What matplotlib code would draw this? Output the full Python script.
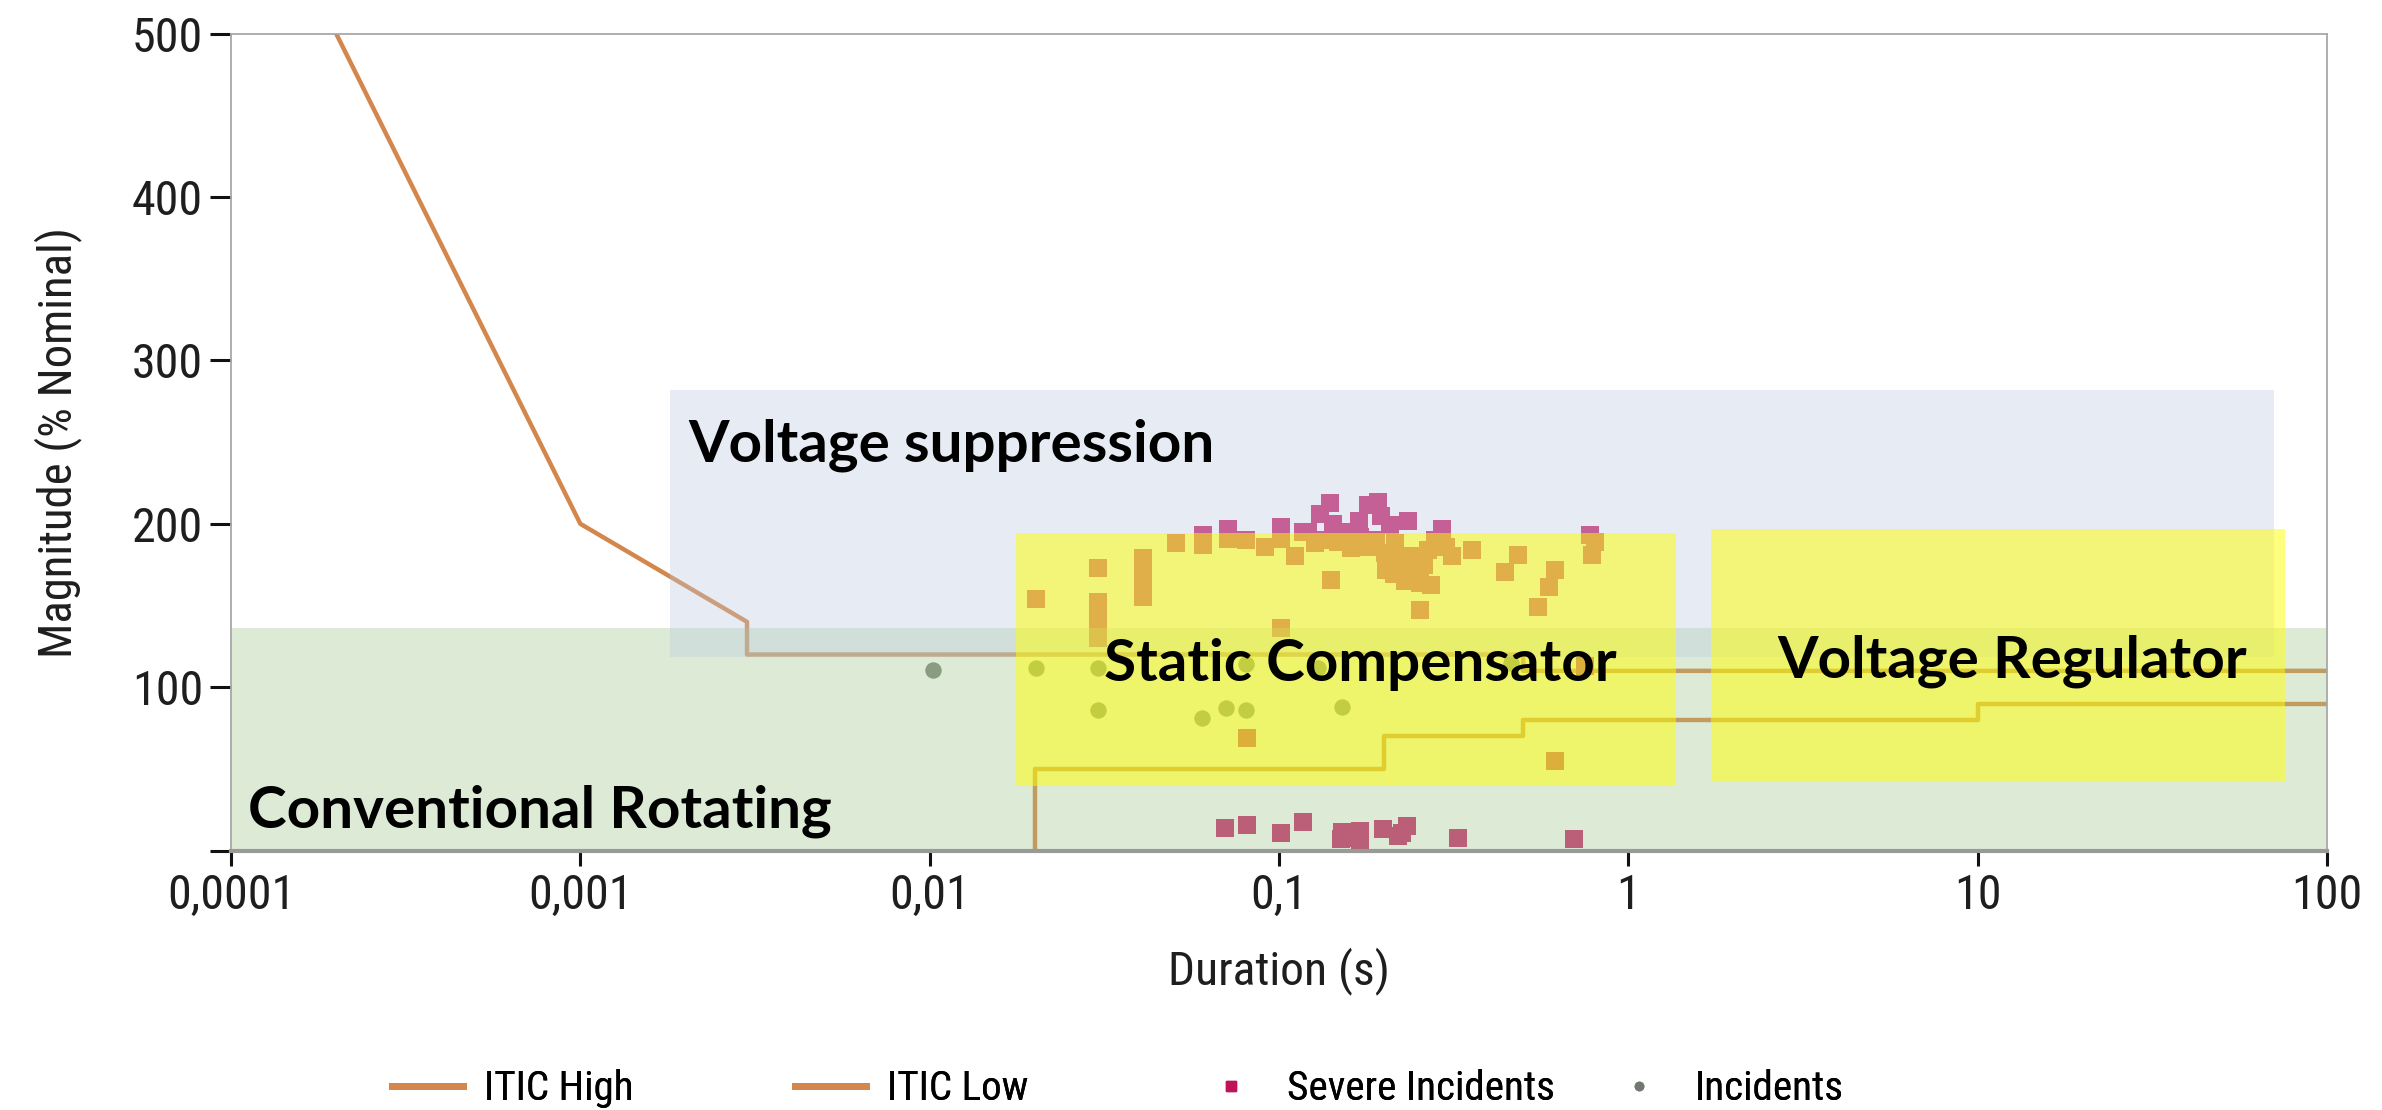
import os
import matplotlib
matplotlib.use("Agg")
import matplotlib.pyplot as plt
from matplotlib import font_manager as fm
from matplotlib.lines import Line2D

# ---------------- data ----------------
itic_high_x = [0.0002, 0.001, 0.003, 0.003, 0.5, 0.5, 100]
itic_high_y = [500, 200, 140, 120, 120, 110, 110]
itic_low_x = [0.02, 0.02, 0.2, 0.2, 0.5, 0.5, 10, 10, 100]
itic_low_y = [0, 50, 50, 70, 70, 80, 80, 90, 90]

severe_x = [0.0699, 0.0812, 0.101, 0.117, 0.151, 0.150, 0.170, 0.170, 0.160, 0.199,
            0.219, 0.232, 0.225, 0.326, 0.697,
            0.0812, 0.617, 0.101, 0.0303, 0.75,
            0.0202, 0.0303, 0.0303, 0.0303, 0.0303, 0.0408, 0.0408, 0.0408, 0.0408,
            0.0508, 0.0605, 0.0605, 0.0714, 0.0714, 0.0806, 0.091, 0.101, 0.101, 0.111, 0.117,
            0.121, 0.131, 0.140, 0.143, 0.169, 0.180, 0.192, 0.196, 0.208, 0.234, 0.292, 0.778,
            0.127, 0.148, 0.161, 0.180, 0.201, 0.203, 0.213, 0.227, 0.237, 0.253, 0.273, 0.253,
            0.267, 0.312, 0.356, 0.141, 0.443, 0.484, 0.553, 0.591, 0.617, 0.804, 0.785,
            0.19, 0.215, 0.22, 0.245, 0.26, 0.23, 0.21, 0.17, 0.155, 0.135, 0.28, 0.30, 0.24]
severe_y = [13.6, 15.7, 11, 17.7, 11.6, 7, 12, 4, 8, 13,
            9, 15, 11, 8, 7,
            69, 55, 136, 130, 113,
            154, 173, 152, 145, 139, 179, 172, 164, 155,
            188, 193, 187, 197, 191, 190, 186, 198, 191, 180, 195,
            195, 206, 212.5, 200, 202, 211.5, 213.5, 205, 199, 202, 197, 193,
            188, 189, 185, 186, 182, 172, 169, 178, 172, 164, 162.5, 147,
            184, 180, 184, 165.6, 170.7, 181, 149, 161.5, 171.7, 189, 181,
            190, 188, 180, 180, 175, 165, 176, 192, 195, 190, 190, 186, 170]

incident_x = [0.0102, 0.0202, 0.0303, 0.0303, 0.060, 0.0707, 0.0806, 0.0806, 0.151, 0.129, 0.46]
incident_y = [110.5, 111.6, 111.6, 86, 81, 87, 86, 114, 88, 112, 115]

region_labels = ["Conventional Rotating", "Voltage suppression", "Static Compensator", "Voltage Regulator"]
region_x0 = [0.0001, 0.0018, 0.0177, 1.73]
region_x1 = [100, 70.3, 1.37, 75.7]
region_y0 = [0, 118.5, 39.5, 42]
region_y1 = [136, 282, 194.4, 196.8]

x_ticks = [0.0001, 0.001, 0.01, 0.1, 1, 10, 100]
x_ticklabels = ["0,0001", "0,001", "0,01", "0,1", "1", "10", "100"]
y_ticks = [0, 100, 200, 300, 400, 500]
y_ticklabels = ["", "100", "200", "300", "400", "500"]

legend_labels = ["ITIC High", "ITIC Low", "Severe Incidents", "Incidents"]

# ---------------- fonts ----------------
def pick_narrow_font():
    prefs = ["liberationsansnarrow-regular", "arialnarrow", "arial narrow",
             "notosans-condensed.", "notosans_condensed-regular", "notosans-condensedregular",
             "notosans-condensed", "robotocondensed-regular", "roboto_condensed-regular",
             "opensans_condensed-regular", "opensans-condensed", "dejavusanscondensed.ttf"]
    bad = ["bold", "italic", "oblique", "light", "medium", "semibold", "black", "thin", "extrabold"]
    files = [f.fname for f in fm.fontManager.ttflist]
    for p in prefs:
        for fn in files:
            b = os.path.basename(fn).lower()
            if p in b and not any(x in b.replace(p, "") for x in bad):
                return fn
    return None

narrow_file = pick_narrow_font()

def narrow_prop(size):
    if narrow_file:
        return fm.FontProperties(fname=narrow_file, size=size)
    return fm.FontProperties(family="Liberation Sans", size=size)

avail = {f.name for f in fm.fontManager.ttflist}
bold_family = "Lato" if "Lato" in avail else "DejaVu Sans"

W, H = 2382, 1110
fig = plt.figure(figsize=(W / 100, H / 100), dpi=100)
renderer = fig.canvas.get_renderer()

def fit_size(s, target_px, base=30.0):
    t = fig.text(0, 0, s, fontproperties=narrow_prop(base))
    w = t.get_window_extent(renderer).width
    t.remove()
    return base * target_px / w

tick_fs = fit_size("0,0001", 128)
xlab_fs = fit_size("Duration (s)", 222)
ylab_fs = fit_size("Magnitude (% Nominal)", 431)
leg_fs = fit_size("Severe Incidents", 268)

ax_left, ax_right, ax_top, ax_bot = 231, 2327, 33.6, 850.6
ax = fig.add_axes([ax_left / W, 1 - ax_bot / H, (ax_right - ax_left) / W, (ax_bot - ax_top) / H])
ax.set_xscale("log")
ax.set_xlim(0.0001, 100)
ax.set_ylim(0, 500)

line_color = "#D3874C"
ax.plot(itic_high_x, itic_high_y, color=line_color, lw=3.2, zorder=2)
ax.plot(itic_low_x, itic_low_y, color=line_color, lw=3.2, zorder=2)

severe_color = "#C8286E"
incident_color = "#7C877D"
ax.scatter(severe_x, severe_y, marker="s", s=150, color=severe_color, linewidths=0, zorder=2.2)
ax.scatter(incident_x, incident_y, marker="o", s=140, color=incident_color, linewidths=0, zorder=2.1)

# overlay regions
region_colors = ["#A0C68A", "#BDC9E2", "#FFFF00", "#FFFF00"]
region_alpha = [0.35, 0.35, 0.5, 0.5]
region_z = [3, 4, 5, 5]
for x0, x1, y0, y1, c, a, z in zip(region_x0, region_x1, region_y0, region_y1,
                                   region_colors, region_alpha, region_z):
    ax.fill_between([x0, x1], [y0, y0], [y1, y1], color=c, alpha=a, lw=0, zorder=z)

# region labels (axes fraction positions, baseline)
hgt = ax_bot - ax_top
label_pos = {
    "Voltage suppression": (0.218, (ax_bot - 461) / hgt),
    "Static Compensator": (0.4165, (ax_bot - 681) / hgt),
    "Voltage Regulator": (0.7376, (ax_bot - 678) / hgt),
    "Conventional Rotating": (0.0081, (ax_bot - 828) / hgt),
}
for lab in region_labels:
    px, py = label_pos[lab]
    ax.text(px, py, lab, transform=ax.transAxes, ha="left", va="baseline",
            fontsize=42, fontweight="bold", family=bold_family, color="black", zorder=7)

# axes styling
for side in ["left", "top", "right"]:
    ax.spines[side].set_color("#A8A8A8")
    ax.spines[side].set_linewidth(1.3)
ax.spines["bottom"].set_color("#999999")
ax.spines["bottom"].set_linewidth(3)
for sp in ax.spines.values():
    sp.set_zorder(10)

ax.set_xticks(x_ticks)
ax.set_xticklabels(x_ticklabels, fontproperties=narrow_prop(tick_fs), color="#1e1e1e")
ax.xaxis.set_minor_locator(matplotlib.ticker.NullLocator())
ax.set_yticks(y_ticks)
ax.set_yticklabels(y_ticklabels, fontproperties=narrow_prop(tick_fs), color="#1e1e1e")
ax.tick_params(axis="x", length=11, width=2.2, color="#111111", pad=5)
ax.tick_params(axis="y", length=15, width=2.2, color="#111111", pad=5)

ax.set_xlabel("Duration (s)", fontproperties=narrow_prop(xlab_fs), color="#1e1e1e", labelpad=20)
ax.set_ylabel("Magnitude (% Nominal)", fontproperties=narrow_prop(ylab_fs), color="#1e1e1e", labelpad=36)

# legend: four items placed on a fixed grid along the bottom
handles = [
    Line2D([], [], color=line_color, lw=5),
    Line2D([], [], color=line_color, lw=5),
    Line2D([], [], color="#C0145A", marker="s", ls="", markersize=7),
    Line2D([], [], color="#707870", marker="o", ls="", markersize=6),
]
leg_anchor_px = [392, 795, 1195, 1603]
size_px = leg_fs * 100 / 72
for h, lab, xa in zip(handles, legend_labels, leg_anchor_px):
    lg = fig.legend([h], [lab], loc="center left", bbox_to_anchor=(xa / W, 1 - 1089 / H),
                    frameon=False, borderpad=0, borderaxespad=0,
                    handlelength=71 / size_px, handletextpad=21 / size_px,
                    prop=narrow_prop(leg_fs))
    fig.add_artist(lg)

fig.savefig("out.png", dpi=100)
